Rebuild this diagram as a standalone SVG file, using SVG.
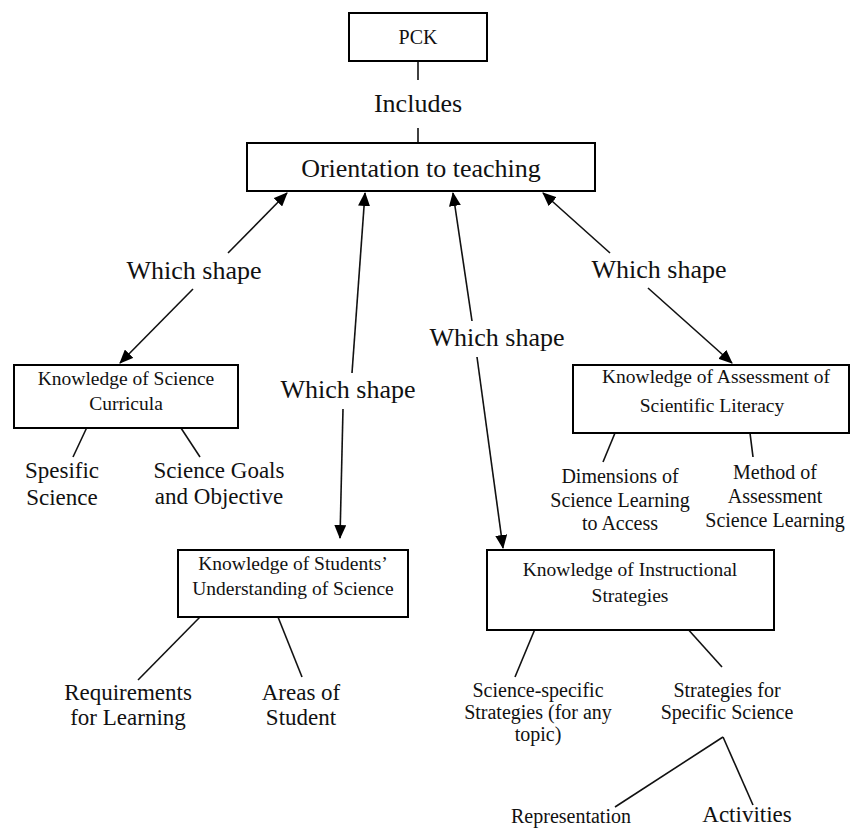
<svg xmlns="http://www.w3.org/2000/svg" width="852" height="828" viewBox="0 0 852 828" font-family="'Liberation Serif', 'Times New Roman', Times, serif">
  <defs>
    <marker id="arrow" markerUnits="userSpaceOnUse" markerWidth="14" markerHeight="12" refX="13" refY="6" orient="auto">
      <path d="M0,0 L14,6 L0,12 Z" fill="#000"/>
    </marker>
  </defs>
  <style>
    text { font-family: 'Liberation Serif', 'Times New Roman', Times, serif; fill: #111; text-anchor: middle; }
    .box { fill: #fff; stroke: #000; stroke-width: 2; }
    .big { font-size: 26px; }
    .mid { font-size: 23px; }
    .sm { font-size: 20px; }
    .box-label { font-size: 19.5px; }
    .link { stroke: #111; stroke-width: 1.6; fill: none; }
    .arrow { stroke: #111; stroke-width: 1.6; fill: none; marker-end: url(#arrow); }
  </style>
  <rect width="852" height="828" fill="#fff"/>

  <!-- connectors -->
  <g id="connectors">
    <line class="link" x1="418" y1="61" x2="418" y2="80"/>
    <line class="link" x1="418" y1="128" x2="418" y2="143"/>

    <line class="arrow" x1="228" y1="253" x2="287" y2="193"/>
    <line class="arrow" x1="193" y1="289" x2="120" y2="363"/>

    <line class="arrow" x1="352" y1="373" x2="365" y2="193"/>
    <line class="arrow" x1="343" y1="409" x2="340" y2="538"/>

    <line class="arrow" x1="472" y1="321" x2="453" y2="193"/>
    <line class="arrow" x1="477" y1="357" x2="503" y2="548"/>

    <line class="arrow" x1="610" y1="253" x2="543" y2="193"/>
    <line class="arrow" x1="648" y1="288" x2="732" y2="363"/>

    <line class="link" x1="88" y1="425" x2="73" y2="457"/>
    <line class="link" x1="179" y1="425" x2="200" y2="457"/>

    <line class="link" x1="615" y1="433" x2="603" y2="462"/>
    <line class="link" x1="750" y1="433" x2="753" y2="457"/>

    <line class="link" x1="200" y1="617" x2="138" y2="680"/>
    <line class="link" x1="278" y1="617" x2="302" y2="677"/>

    <line class="link" x1="540" y1="617" x2="515" y2="677"/>
    <line class="link" x1="677" y1="617" x2="722" y2="667"/>

    <line class="link" x1="723" y1="737" x2="615" y2="807"/>
    <line class="link" x1="723" y1="737" x2="753" y2="805"/>
  </g>

  <!-- edge labels -->
  <g id="labels">
    <text class="big" x="418" y="112">Includes</text>
    <text class="big" x="194" y="279">Which shape</text>
    <text class="big" x="348" y="398">Which shape</text>
    <text class="big" x="497" y="346">Which shape</text>
    <text class="big" x="659" y="278">Which shape</text>
  </g>

  <g id="pck">
    <rect class="box" x="349" y="13" width="138" height="48"/>
    <text class="sm" x="418" y="44">PCK</text>
  </g>

  <g id="orientation">
    <rect class="box" x="247" y="143" width="348" height="48"/>
    <text class="big" x="421" y="177">Orientation to teaching</text>
  </g>

  <g id="curricula">
    <rect class="box" x="14" y="365" width="224" height="63"/>
    <text class="box-label" x="126" y="385">Knowledge of Science</text>
    <text class="box-label" x="126" y="410">Curricula</text>
  </g>

  <g id="spesific-science">
    <text class="mid" x="62" y="478">Spesific</text>
    <text class="mid" x="62" y="505">Science</text>
  </g>

  <g id="science-goals">
    <text class="mid" x="219" y="478">Science Goals</text>
    <text class="mid" x="219" y="504">and Objective</text>
  </g>

  <g id="assessment">
    <rect class="box" x="573" y="365" width="276" height="68"/>
    <text class="box-label" x="716" y="383">Knowledge of Assessment of</text>
    <text class="box-label" x="712" y="412">Scientific Literacy</text>
  </g>

  <g id="dimensions">
    <text class="sm" x="620" y="483">Dimensions of</text>
    <text class="sm" x="620" y="507">Science Learning</text>
    <text class="sm" x="620" y="530">to Access</text>
  </g>

  <g id="method">
    <text class="sm" x="775" y="479">Method of</text>
    <text class="sm" x="775" y="503">Assessment</text>
    <text class="sm" x="775" y="527">Science Learning</text>
  </g>

  <g id="students">
    <rect class="box" x="178" y="550" width="230" height="67"/>
    <text class="box-label" x="293" y="570">Knowledge of Students’</text>
    <text class="box-label" x="293" y="595">Understanding of Science</text>
  </g>

  <g id="requirements">
    <text class="mid" x="128" y="700">Requirements</text>
    <text class="mid" x="128" y="725">for Learning</text>
  </g>

  <g id="areas">
    <text class="mid" x="301" y="700">Areas of</text>
    <text class="mid" x="301" y="725">Student</text>
  </g>

  <g id="instructional">
    <rect class="box" x="487" y="550" width="287" height="80"/>
    <text class="box-label" x="630" y="576">Knowledge of Instructional</text>
    <text class="box-label" x="630" y="602">Strategies</text>
  </g>

  <g id="science-specific">
    <text class="sm" x="538" y="697">Science-specific</text>
    <text class="sm" x="538" y="719">Strategies (for any</text>
    <text class="sm" x="538" y="741">topic)</text>
  </g>

  <g id="specific-science">
    <text class="sm" x="727" y="697">Strategies for</text>
    <text class="sm" x="727" y="719">Specific Science</text>
  </g>

  <g id="representation">
    <text class="sm" x="571" y="823">Representation</text>
  </g>

  <g id="activities">
    <text class="mid" x="747" y="822">Activities</text>
  </g>
</svg>
